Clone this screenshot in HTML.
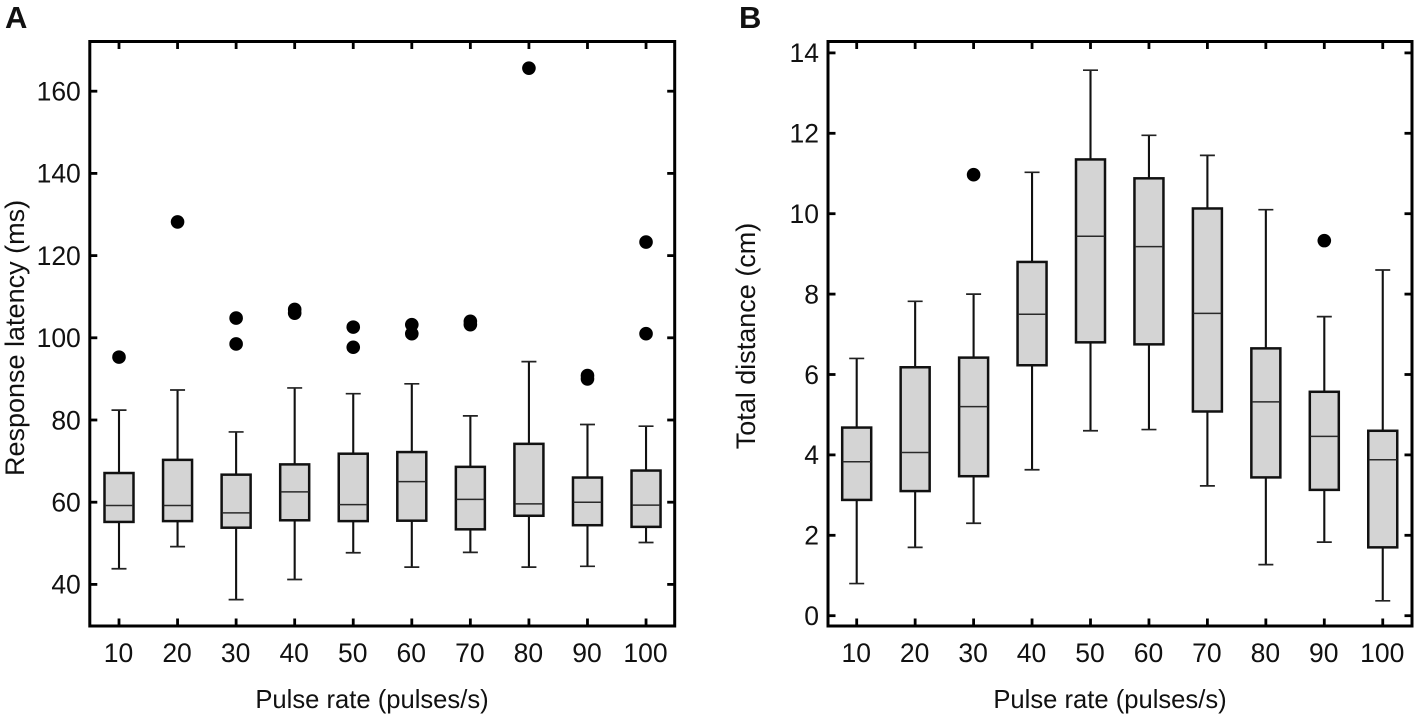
<!DOCTYPE html>
<html>
<head>
<meta charset="utf-8">
<style>
html,body{margin:0;padding:0;background:#fff;width:1417px;height:718px;overflow:hidden}
svg{display:block}
text{font-family:"Liberation Sans",sans-serif;fill:#111}
</style>
</head>
<body>
<svg id="fig" width="1417" height="718" viewBox="0 0 1417 718" xmlns="http://www.w3.org/2000/svg"></svg>
<script>
// Shared category data
const pulseRates = [10, 20, 30, 40, 50, 60, 70, 80, 90, 100];

// Panel A: response latency (ms)
const latencyTicks = [40, 60, 80, 100, 120, 140, 160];
const latencyWhiskerHigh = [82.4, 87.3, 77.1, 87.8, 86.4, 88.8, 81.0, 94.2, 78.9, 78.5];
const latencyQ3 = [67.1, 70.3, 66.7, 69.2, 71.8, 72.2, 68.6, 74.2, 66.0, 67.7];
const latencyMedian = [59.2, 59.2, 57.4, 62.5, 59.4, 65.0, 60.7, 59.6, 60.0, 59.3];
const latencyQ1 = [55.2, 55.4, 53.8, 55.6, 55.4, 55.5, 53.4, 56.7, 54.4, 54.0];
const latencyWhiskerLow = [43.8, 49.2, 36.3, 41.2, 47.7, 44.2, 47.8, 44.2, 44.4, 50.2];
const latencyOutliers = [[95.3], [128.2], [104.8, 98.5], [106.9, 106.0], [102.6, 97.7], [103.2, 101.0], [104.0, 103.2], [165.6], [90.8, 90.0], [123.3, 101.0]];

// Panel B: total distance (cm)
const distanceTicks = [0, 2, 4, 6, 8, 10, 12, 14];
const distanceWhiskerHigh = [6.4, 7.82, 8.0, 11.03, 13.57, 11.95, 11.45, 10.1, 7.44, 8.6];
const distanceQ3 = [4.68, 6.18, 6.42, 8.8, 11.35, 10.88, 10.13, 6.65, 5.57, 4.6];
const distanceMedian = [3.83, 4.06, 5.2, 7.5, 9.44, 9.18, 7.52, 5.32, 4.46, 3.88];
const distanceQ1 = [2.88, 3.1, 3.47, 6.23, 6.8, 6.75, 5.08, 3.44, 3.13, 1.7];
const distanceWhiskerLow = [0.8, 1.7, 2.3, 3.63, 4.6, 4.63, 3.23, 1.27, 1.83, 0.37];
const distanceOutliers = [[], [], [10.97], [], [], [], [], [], [9.33], []];

const NS = 'http://www.w3.org/2000/svg';
const fig = document.getElementById('fig');

function make(parent, tag, attrs, text) {
  const el = document.createElementNS(NS, tag);
  for (const k in attrs) el.setAttribute(k, attrs[k]);
  if (text !== undefined) el.textContent = text;
  parent.appendChild(el);
  return el;
}

function drawPanel(p) {
  const g = make(fig, 'g', {});
  
  

  const sx = i => p.x0 + i * p.xStep;
  const sy = v => p.yRefPx - (v - p.yRefVal) * p.yScale;

  // boxes and whiskers
  pulseRates.forEach((rate, i) => {
    const cx = sx(i);
    const box = make(g, 'g', {});
    
    
    const hi = sy(p.high[i]), q3 = sy(p.q3[i]), med = sy(p.med[i]), q1 = sy(p.q1[i]), lo = sy(p.low[i]);
    const whisker = make(box, 'path', {
      d: 'M' + cx + ' ' + q3 + 'V' + hi + 'M' + cx + ' ' + q1 + 'V' + lo,
      fill: 'none', stroke: '#111', 'stroke-width': 2.1
    });
    
    
    const caps = make(box, 'path', {
      d: 'M' + (cx - 7.5) + ' ' + hi + 'H' + (cx + 7.5) + 'M' + (cx - 7.5) + ' ' + lo + 'H' + (cx + 7.5),
      fill: 'none', stroke: '#222', 'stroke-width': 1.7
    });
    
    
    const rect = make(box, 'rect', {
      x: cx - 14.5, y: q3, width: 29, height: q1 - q3,
      fill: '#d4d4d4', stroke: '#111', 'stroke-width': 2.5
    });
    
    
    const median = make(box, 'line', {
      x1: cx - 14, x2: cx + 14, y1: med, y2: med, stroke: '#2a2a2a', 'stroke-width': 1.5
    });
    
    
    p.outliers[i].forEach(v => {
      const dot = make(box, 'circle', { cx: cx, cy: sy(v), r: 6.8, fill: '#000' });
      
      
    });
  });

  // ticks
  const tickAttrs = { stroke: '#000', 'stroke-width': 2.8 };
  pulseRates.forEach((rate, i) => {
    const cx = sx(i);
    const bottomTick = make(g, 'line', Object.assign({ x1: cx, x2: cx, y1: p.bottom, y2: p.bottom - 7.5 }, tickAttrs));
    
    
    const topTick = make(g, 'line', Object.assign({ x1: cx, x2: cx, y1: p.top, y2: p.top + 7.5 }, tickAttrs));
    
    
    const label = make(g, 'text', { x: cx - 0.5, y: 662, 'font-size': 26.5, 'text-anchor': 'middle' }, String(rate));
    
    
  });
  p.ticks.forEach(v => {
    const y = sy(v);
    const leftTick = make(g, 'line', Object.assign({ x1: p.left, x2: p.left + 7.5, y1: y, y2: y }, tickAttrs));
    
    
    const rightTick = make(g, 'line', Object.assign({ x1: p.right, x2: p.right - 7.5, y1: y, y2: y }, tickAttrs));
    
    
    const label = make(g, 'text', { x: p.left - 9, y: y + 9.3, 'font-size': 26.5, 'text-anchor': 'end' }, String(v));
    
    
  });

  // frame
  const frame = make(g, 'rect', {
    x: p.left, y: p.top, width: p.right - p.left, height: p.bottom - p.top,
    fill: 'none', stroke: '#000', 'stroke-width': 3
  });
  
  

  // titles
  const xTitle = make(g, 'text', { x: p.xTitleX, y: 708, 'font-size': 25.6, 'text-anchor': 'middle' }, 'Pulse rate (pulses/s)');
  
  
  const yTitle = make(g, 'text', {
    transform: 'translate(' + p.yTitleX + ' ' + p.yTitleY + ') rotate(-90)',
    'font-size': 27, 'text-anchor': 'middle'
  }, p.yLabel);
  
  
  const letter = make(g, 'text', { x: p.letterX, y: 28, 'font-size': 31, 'font-weight': 'bold', fill: '#000' }, p.letter);
  
  
}

drawPanel({
  name: 'panel-a-response-latency', letter: 'A', letterX: 5, yLabel: 'Response latency (ms)',
  left: 89.8, right: 674.7, top: 41.5, bottom: 626,
  x0: 119, xStep: 58.56, yRefVal: 40, yRefPx: 584.4, yScale: 4.11,
  ticks: latencyTicks, high: latencyWhiskerHigh, q3: latencyQ3, med: latencyMedian,
  q1: latencyQ1, low: latencyWhiskerLow, outliers: latencyOutliers,
  xTitleX: 372, yTitleX: 24, yTitleY: 338
});

drawPanel({
  name: 'panel-b-total-distance', letter: 'B', letterX: 739, yLabel: 'Total distance (cm)',
  left: 828, right: 1412, top: 41.5, bottom: 626,
  x0: 856.7, xStep: 58.45, yRefVal: 0, yRefPx: 615.7, yScale: 40.2,
  ticks: distanceTicks, high: distanceWhiskerHigh, q3: distanceQ3, med: distanceMedian,
  q1: distanceQ1, low: distanceWhiskerLow, outliers: distanceOutliers,
  xTitleX: 1110, yTitleX: 755, yTitleY: 336
});
</script>
</body>
</html>
